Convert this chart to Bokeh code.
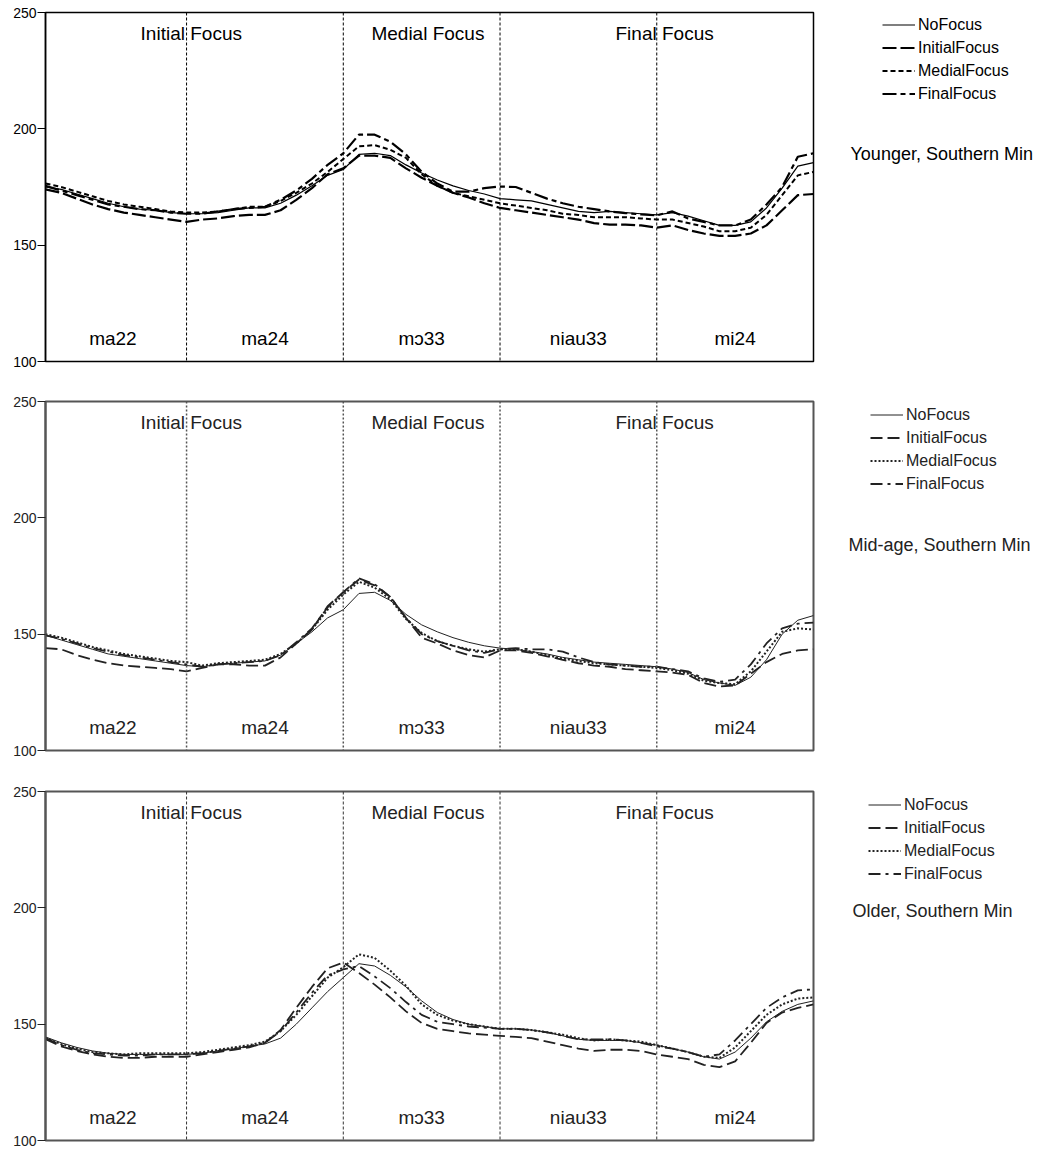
from bokeh.plotting import figure
from bokeh.models import Range1d, Span, Legend, LegendItem, Label, FixedTicker
from bokeh.layouts import column, row
from bokeh.embed import file_html
from bokeh.resources import INLINE
from bokeh.core.properties import value

# ---------------- data ----------------
x = list(range(1, 51))
series_names = ["NoFocus", "InitialFocus", "MedialFocus", "FinalFocus"]
syllables = ["ma22", "ma24", "mɔ33", "niau33", "mi24"]
syll_x = [5.3, 15, 25, 35, 45]
syll_y = [110, 110, 110, 110, 110]
focus_labels = ["Initial Focus", "Medial Focus", "Final Focus"]
focus_x = [10.3, 25.4, 40.5]
focus_y = [241, 241, 241]
boundaries = [10, 20, 30, 40]
y_ticks = [100, 150, 200, 250]
group_titles = ["Younger, Southern Min", "Mid-age, Southern Min", "Older, Southern Min"]

# Younger
y1_no = [175, 174, 172, 170, 168, 166.5, 165.5, 165, 164, 163.5,
         163.5, 164, 165, 166, 166, 168, 171.5, 175.5, 180, 182.5,
         189, 189.5, 188.5, 184.5, 181, 178, 175.5, 173.5, 172, 170,
         169.5, 169, 167.5, 166, 164.5, 164, 164.5, 164, 163.5, 163,
         164, 162.5, 160.5, 158.5, 158.5, 160, 166, 174.5, 184, 185.5]
y1_ini = [174, 172.5, 170, 167.5, 165.5, 164, 163, 162, 161, 160,
          161, 161.5, 162.5, 163, 163, 165, 169.5, 174.5, 180.5, 183,
          188.5, 188.5, 187.5, 183, 179, 175.5, 172.5, 170.5, 168, 166,
          165, 164, 163, 162, 161, 159.5, 158.8, 158.8, 158.5, 157.5,
          158.5, 156.5, 155, 154, 154, 155, 158.5, 165, 171.5, 172]
y1_med = [176.5, 175, 173, 171, 169, 167.5, 166.5, 165.5, 164.5, 164,
          164, 164.5, 165.5, 166.5, 166.5, 169, 172.5, 176.5, 181.5, 187,
          192.5, 193, 191, 187.5, 180.5, 175.5, 172.5, 171, 169.5, 168,
          167, 166, 165, 163.5, 163, 162, 162, 162, 161.5, 161,
          161, 159.5, 158, 156, 156, 157.5, 163, 171.5, 180, 181.5]
y1_fin = [175.5, 173.5, 171.5, 169.5, 167.5, 166.5, 165.5, 165, 164, 163.5,
          163.5, 164.5, 165.5, 166, 166.5, 169.5, 173.5, 178.5, 184.5, 189.5,
          197.5, 197.5, 194.5, 189, 181.5, 176.5, 173, 173, 174.5, 175.2,
          175, 172.5, 170, 168, 166.5, 165.5, 164.5, 163.8, 163.2, 162.8,
          164.5, 161.5, 160, 158.5, 158.5, 161, 167.5, 175, 188, 189.5]

# Mid-age
y2_no = [149.5, 147.5, 145.5, 143.5, 141.5, 140.5, 139.5, 138.5, 137.5, 136.5,
         136, 137, 137.5, 138, 138.5, 141, 146, 151, 157, 160.5,
         167.5, 168, 164.5, 158.5, 154, 151, 148.5, 146.5, 145, 144,
         143.5, 142.5, 141.5, 140, 139, 138, 137.5, 137, 136.5, 136,
         135, 133.5, 130.5, 129, 128, 131.5, 139, 150, 156, 158]
y2_ini = [144, 143.5, 141, 139, 137.5, 136.5, 136, 135.5, 135, 134,
          135.5, 137, 137, 136.5, 136.5, 140, 146, 152, 162, 168,
          173.5, 171, 166, 157, 148.5, 146, 143, 141, 140, 143,
          143, 142, 140.5, 139, 137.5, 136.5, 136, 135, 134.5, 134,
          133.5, 132.5, 129, 127.5, 128, 133, 138, 141.5, 143, 143.5]
y2_med = [150, 148.5, 146.5, 144.5, 143, 141.5, 140.5, 139.5, 138.5, 138,
          136.5, 137.5, 138, 138.5, 139, 141.5, 146, 152, 160.5, 167,
          172.5, 170, 165, 156.5, 150.5, 147, 145, 143.5, 142.5, 143.5,
          143.5, 142.5, 141, 139.5, 138.5, 137.5, 137, 136.5, 136, 135.5,
          134.5, 133, 130, 129, 128.5, 134, 142.5, 151, 152.5, 152]
y2_fin = [149.5, 148, 146, 144, 142.5, 141, 140, 139, 138, 137,
          136, 137, 137.5, 138, 138.5, 141, 146.5, 152.5, 161.5, 168,
          174, 171.5, 166, 157, 150, 147, 145, 143, 142, 143.5,
          144, 143.5, 143.5, 142.5, 140, 138, 137, 136.5, 136, 136,
          135, 134, 131, 129.5, 130.5, 137, 146, 152.5, 154.5, 155]

# Older
y3_no = [144.5, 142, 140, 138.5, 137.5, 137, 137, 137, 137, 137,
         137.5, 138.5, 139.5, 140.5, 141.5, 144, 150, 157, 164, 170,
         176, 175, 171, 166, 160, 155, 152, 150, 149, 148,
         148, 147.5, 146.5, 145, 143.5, 143, 143, 143, 142, 141,
         139.5, 138, 136, 135, 138, 144, 151, 155.5, 158.5, 160]
y3_ini = [143.5, 140.5, 138.5, 137, 136, 135.5, 135.5, 136, 136, 136,
          137, 138, 139, 140, 142, 147.5, 157, 166, 174, 176.5,
          172, 167, 161.5, 155.5, 150.5, 148, 147, 146, 145.5, 145,
          144.5, 144, 142.5, 141, 139.5, 138.5, 139, 139, 138.5, 137,
          136, 135, 132.5, 131.5, 134, 142, 150.5, 155, 157, 158.5]
y3_med = [144, 141.5, 139.5, 138, 137.5, 137, 137.5, 137.5, 137.5, 137.5,
          138, 139, 140, 141, 142.5, 147, 154, 162, 170, 174.5,
          180, 178.5, 173, 166.5, 158.5, 154, 151.5, 150, 149, 148,
          148, 147.5, 146.5, 145.5, 144, 143, 143.5, 143, 142.5, 141,
          139.5, 138, 136, 135.5, 140, 147, 154, 158.5, 161, 161.5]
y3_fin = [144, 141, 139, 137.5, 137, 136.5, 136.5, 137, 137, 137,
          137.5, 138.5, 139.5, 140.5, 142, 147, 155, 163.5, 171, 173.5,
          175, 170.5, 165.5, 159.5, 154, 151, 150, 149, 148.5, 148,
          148, 147.5, 146.5, 145, 143.5, 143.5, 143.5, 143, 142, 140.5,
          139.5, 138, 136, 137, 143, 150, 157, 161.5, 164.5, 165]

FONT = "Liberation Sans"
NAN = float("nan")

style_a = dict(
    ink="black", frame="black", frame_w=1.5,
    div=dict(color="black", dash="3 2", width=1),
    lines=[dict(dash="solid", width=1.2), dict(dash="14 4", width=2.2),
           dict(dash="5 3", width=2.0), dict(dash="14 4 5 4", width=2.2)],
)
style_b = dict(
    ink="#222222", frame="#555555", frame_w=2,
    div=dict(color="#555555", dash="2 2", width=1.5),
    lines=[dict(dash="solid", width=1.0), dict(dash="12 5", width=1.8),
           dict(dash="2 2", width=2.0), dict(dash="12 5 3 5", width=1.8)],
)
style_c = dict(
    ink="#222222", frame="#555555", frame_w=2,
    div=dict(color="#333333", dash="3 2", width=1),
    lines=[dict(dash="solid", width=1.0), dict(dash="12 5", width=1.8),
           dict(dash="2 2", width=2.0), dict(dash="12 5 3 5", width=1.8)],
)

FRAME_H = 349


def make_panel(ys, title, style, top, bottom, leg_x, leg_y, sub_x, sub_y):
    p = figure(frame_width=768, frame_height=FRAME_H, output_backend="svg",
               toolbar_location=None, x_range=Range1d(1, 50), y_range=Range1d(100, 250),
               min_border_left=45, min_border_right=2,
               min_border_top=top, min_border_bottom=bottom)
    p.xaxis.visible = False
    p.grid.visible = False
    p.outline_line_color = style["frame"]
    p.outline_line_width = style["frame_w"]
    ax = p.yaxis[0]
    ax.ticker = FixedTicker(ticks=y_ticks)
    ax.minor_tick_line_color = None
    ax.major_tick_out = 8
    ax.major_tick_in = 0
    ax.major_label_standoff = 1
    ax.axis_line_color = style["frame"]
    ax.axis_line_width = style["frame_w"]
    ax.major_tick_line_color = style["ink"]
    ax.major_label_text_font = FONT
    ax.major_label_text_font_size = "14px"
    ax.major_label_text_color = style["ink"]

    p.text(x=syll_x, y=syll_y, text=syllables, text_align="center",
           text_baseline="middle", text_font=value(FONT), text_font_size="19px",
           text_color=style["ink"])
    p.text(x=focus_x, y=focus_y, text=focus_labels, text_align="center",
           text_baseline="middle", text_font=value(FONT), text_font_size="19px",
           text_color=style["ink"])

    for yv, ls in zip(ys, style["lines"]):
        p.line(x, yv, line_color=style["ink"], line_width=ls["width"], line_dash=ls["dash"])

    for b in boundaries:
        p.add_layout(Span(location=b, dimension="height", line_color=style["div"]["color"],
                          line_dash=style["div"]["dash"], line_width=style["div"]["width"]))

    # side panel holding the legend and the group title
    s = figure(frame_width=234, frame_height=FRAME_H, output_backend="svg",
               toolbar_location=None, x_range=Range1d(0, 1), y_range=Range1d(0, 1),
               min_border_left=0, min_border_right=0,
               min_border_top=top, min_border_bottom=bottom)
    s.axis.visible = False
    s.grid.visible = False
    s.outline_line_color = None
    items = []
    for name, ls in zip(series_names, style["lines"]):
        # legend-only renderer: no visible data
        r = s.line([0, 1], [NAN, NAN], line_color=style["ink"], line_width=ls["width"],
                   line_dash=ls["dash"])
        items.append(LegendItem(label=name, renderers=[r]))
    leg = Legend(items=items, location=(leg_x, leg_y), padding=0, margin=0, spacing=0,
                 glyph_width=33, glyph_height=23, label_height=23, label_standoff=3,
                 border_line_alpha=0, background_fill_alpha=0,
                 label_text_font=FONT, label_text_font_size="16px",
                 label_text_color=style["ink"])
    s.add_layout(leg)
    s.add_layout(Label(x=sub_x, y=sub_y, x_units="screen", y_units="screen", text=title,
                       text_font=FONT, text_font_size="18px", text_color=style["ink"],
                       text_baseline="middle", text_align="left"))
    return row(p, s, spacing=0)


r1 = make_panel([y1_no, y1_ini, y1_med, y1_fin], group_titles[0], style_a,
                12, 20, 67, 256, 35, 208)
r2 = make_panel([y2_no, y2_ini, y2_med, y2_fin], group_titles[1], style_b,
                20, 20, 55, 255, 33, 206)
r3 = make_panel([y3_no, y3_ini, y3_med, y3_fin], group_titles[2], style_c,
                21, 8, 53, 255, 37, 230)

layout = column(r1, r2, r3, spacing=0)
open("out.html", "w").write(file_html(layout, INLINE))
